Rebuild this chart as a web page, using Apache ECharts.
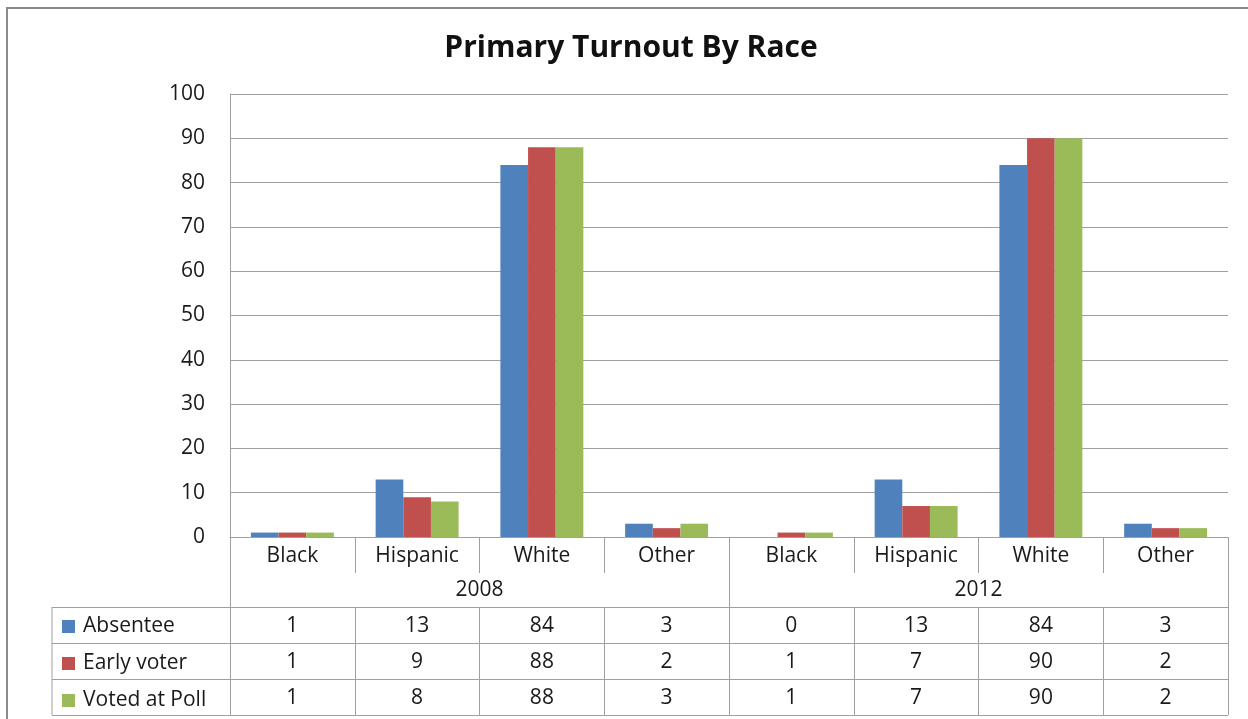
<!DOCTYPE html>
<html>
<head>
<meta charset="utf-8">
<script src="https://cdn.jsdelivr.net/npm/echarts@6/dist/echarts.min.js"></script>
<style>html,body{margin:0;padding:0;background:#fff;}#c{width:1248px;height:719px;}</style>
</head>
<body>
<div id="c"></div>
<script>
const categories = ['Black', 'Hispanic', 'White', 'Other', 'Black', 'Hispanic', 'White', 'Other'];
const years = ['2008', '2012'];
const seriesNames = ['Absentee', 'Early voter', 'Voted at Poll'];
const absentee = [1, 13, 84, 3, 0, 13, 84, 3];
const earlyVoter = [1, 9, 88, 2, 1, 7, 90, 2];
const votedAtPoll = [1, 8, 88, 3, 1, 7, 90, 2];
const yTicks = { min: 0, max: 100, interval: 10 };

const colors = ['#4F81BD', '#C0504D', '#9BBB59'];
const values = [absentee, earlyVoter, votedAtPoll];
const FONT = 'Open Sans';
const FS = 21;
const TXT = '#1a1a1a';
const LINE = '#a0a0a0';
const W = 1248, H = 719;
const G = { left: 230, right: 20, top: 94, bottom: 182 };
const baseY = H - G.bottom;          // 537
const rowH = 36;
const catRowH = 36, yearRowH = 34;
const tableTop = baseY + catRowH + yearRowH; // 607
const xL = G.left, xR = W - G.right, tableLeft = 52;

const chart = echarts.init(document.getElementById('c'), null, { renderer: 'canvas' });

const xAxes = [
  {
    type: 'category', data: categories, gridIndex: 0, position: 'bottom',
    axisLine: { show: true, lineStyle: { color: LINE } },
    axisTick: { show: true, interval: 0, length: catRowH, lineStyle: { color: LINE } },
    axisLabel: { interval: 0, fontFamily: FONT, fontSize: FS, color: TXT, margin: 9 }
  },
  {
    type: 'category', data: years, gridIndex: 0, position: 'bottom', offset: catRowH,
    axisLine: { show: false },
    axisTick: { show: true, interval: 0, length: yearRowH, lineStyle: { color: LINE } },
    axisLabel: { interval: 0, fontFamily: FONT, fontSize: FS, color: TXT, margin: 7 }
  }
];
values.forEach((arr, i) => {
  xAxes.push({
    type: 'category', data: categories, gridIndex: 0, position: 'bottom',
    offset: catRowH + yearRowH + i * rowH,
    axisLine: { show: true, lineStyle: { color: LINE } },
    axisTick: { show: true, interval: 0, length: rowH, lineStyle: { color: LINE } },
    axisLabel: {
      interval: 0, fontFamily: FONT, fontSize: FS, color: TXT, margin: 9,
      formatter: (v, idx) => String(arr[idx])
    }
  });
});

const graphics = [
  { type: 'rect', silent: true, shape: { x: 7, y: 8, width: 1400, height: 900 },
    style: { fill: 'none', stroke: '#8a8a8a', lineWidth: 2 } },
  { type: 'line', silent: true, shape: { x1: tableLeft, y1: tableTop, x2: tableLeft, y2: tableTop + 3 * rowH },
    style: { stroke: LINE, lineWidth: 1 } }
];
for (let r = 0; r <= 3; r++) {
  const y = tableTop + r * rowH + 0.5;
  graphics.push({ type: 'line', silent: true,
    shape: { x1: tableLeft, y1: y, x2: r === 3 ? xR : xL, y2: y },
    style: { stroke: LINE, lineWidth: 1 } });
}

chart.setOption({
  animation: false,
  color: colors,
  title: {
    text: 'Primary Turnout By Race',
    left: 631, textAlign: 'center', top: 33, padding: 0,
    textStyle: { fontFamily: FONT, fontWeight: 'bold', fontSize: 30, color: '#111' }
  },
  legend: {
    data: seriesNames, orient: 'vertical', left: 62, top: tableTop + 9,
    icon: 'rect', itemWidth: 13, itemHeight: 13, itemGap: rowH - 20, padding: 0,
    selectedMode: false,
    textStyle: { fontFamily: FONT, fontSize: FS, color: TXT, lineHeight: 20, padding: [0, 0, 0, 3] }
  },
  grid: { left: G.left, right: G.right, top: G.top, bottom: G.bottom, containLabel: false },
  xAxis: xAxes,
  yAxis: {
    type: 'value', min: yTicks.min, max: yTicks.max, interval: yTicks.interval,
    axisLine: { show: true, lineStyle: { color: LINE } },
    axisTick: { show: false },
    splitLine: { show: true, lineStyle: { color: LINE } },
    axisLabel: { fontFamily: FONT, fontSize: FS, color: TXT, margin: 25 }
  },
  series: values.map((arr, i) => ({
    name: seriesNames[i], type: 'bar', xAxisIndex: 0, data: arr,
    barGap: '0%', barCategoryGap: '33.5%'
  })),
  graphic: graphics
});
</script>
</body>
</html>
